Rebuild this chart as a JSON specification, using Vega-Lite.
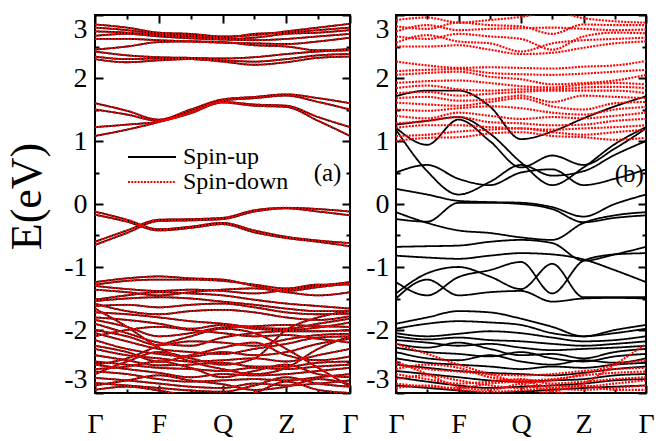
{
"$schema": "https://vega.github.io/schema/vega-lite/v6.json",
"background": "white",
"padding": {"left": 4, "top": 13, "right": 5, "bottom": 5},
"spacing": 4,
"datasets": {
"A": [
{"b":"a1","k":0,"e":2.85},{"b":"a1","k":0.5,"e":2.80},{"b":"a1","k":1,"e":2.72},{"b":"a1","k":1.5,"e":2.70},{"b":"a1","k":2,"e":2.66},{"b":"a1","k":2.5,"e":2.68},{"b":"a1","k":3,"e":2.74},{"b":"a1","k":3.5,"e":2.80},{"b":"a1","k":4,"e":2.86},
{"b":"a2","k":0,"e":2.80},{"b":"a2","k":0.5,"e":2.76},{"b":"a2","k":1,"e":2.70},{"b":"a2","k":1.5,"e":2.68},{"b":"a2","k":2,"e":2.64},{"b":"a2","k":2.5,"e":2.70},{"b":"a2","k":3,"e":2.72},{"b":"a2","k":3.5,"e":2.76},{"b":"a2","k":4,"e":2.80},
{"b":"a3","k":0,"e":2.74},{"b":"a3","k":0.5,"e":2.72},{"b":"a3","k":1,"e":2.68},{"b":"a3","k":1.5,"e":2.66},{"b":"a3","k":2,"e":2.62},{"b":"a3","k":2.5,"e":2.64},{"b":"a3","k":3,"e":2.70},{"b":"a3","k":3.5,"e":2.72},{"b":"a3","k":4,"e":2.76},
{"b":"a4","k":0,"e":2.67},{"b":"a4","k":0.5,"e":2.70},{"b":"a4","k":1,"e":2.66},{"b":"a4","k":1.5,"e":2.63},{"b":"a4","k":2,"e":2.61},{"b":"a4","k":2.5,"e":2.60},{"b":"a4","k":3,"e":2.62},{"b":"a4","k":3.5,"e":2.66},{"b":"a4","k":4,"e":2.70},
{"b":"a5","k":0,"e":2.62},{"b":"a5","k":0.5,"e":2.62},{"b":"a5","k":1,"e":2.60},{"b":"a5","k":1.5,"e":2.58},{"b":"a5","k":2,"e":2.56},{"b":"a5","k":2.5,"e":2.55},{"b":"a5","k":3,"e":2.54},{"b":"a5","k":3.5,"e":2.58},{"b":"a5","k":4,"e":2.64},
{"b":"a6","k":0,"e":2.45},{"b":"a6","k":0.5,"e":2.50},{"b":"a6","k":1,"e":2.57},{"b":"a6","k":1.5,"e":2.58},{"b":"a6","k":2,"e":2.57},{"b":"a6","k":2.5,"e":2.52},{"b":"a6","k":3,"e":2.50},{"b":"a6","k":3.5,"e":2.44},{"b":"a6","k":4,"e":2.46},
{"b":"a7","k":0,"e":2.42},{"b":"a7","k":0.5,"e":2.36},{"b":"a7","k":1,"e":2.33},{"b":"a7","k":1.5,"e":2.32},{"b":"a7","k":2,"e":2.31},{"b":"a7","k":2.5,"e":2.33},{"b":"a7","k":3,"e":2.38},{"b":"a7","k":3.5,"e":2.42},{"b":"a7","k":4,"e":2.44},
{"b":"a8","k":0,"e":2.34},{"b":"a8","k":0.5,"e":2.30},{"b":"a8","k":1,"e":2.31},{"b":"a8","k":1.5,"e":2.30},{"b":"a8","k":2,"e":2.28},{"b":"a8","k":2.5,"e":2.26},{"b":"a8","k":3,"e":2.30},{"b":"a8","k":3.5,"e":2.36},{"b":"a8","k":4,"e":2.38},
{"b":"a9","k":0,"e":2.30},{"b":"a9","k":0.5,"e":2.25},{"b":"a9","k":1,"e":2.28},{"b":"a9","k":1.5,"e":2.30},{"b":"a9","k":2,"e":2.26},{"b":"a9","k":2.5,"e":2.21},{"b":"a9","k":3,"e":2.25},{"b":"a9","k":3.5,"e":2.32},{"b":"a9","k":4,"e":2.34},
{"b":"a10","k":0,"e":1.60},{"b":"a10","k":0.5,"e":1.48},{"b":"a10","k":1,"e":1.34},{"b":"a10","k":1.5,"e":1.50},{"b":"a10","k":2,"e":1.66},{"b":"a10","k":2.5,"e":1.70},{"b":"a10","k":3,"e":1.74},{"b":"a10","k":3.5,"e":1.68},{"b":"a10","k":4,"e":1.60},
{"b":"a11","k":0,"e":1.50},{"b":"a11","k":0.5,"e":1.42},{"b":"a11","k":1,"e":1.32},{"b":"a11","k":1.5,"e":1.48},{"b":"a11","k":2,"e":1.64},{"b":"a11","k":2.5,"e":1.68},{"b":"a11","k":3,"e":1.72},{"b":"a11","k":3.5,"e":1.62},{"b":"a11","k":4,"e":1.50},
{"b":"a12","k":0,"e":1.22},{"b":"a12","k":0.5,"e":1.26},{"b":"a12","k":1,"e":1.31},{"b":"a12","k":1.5,"e":1.45},{"b":"a12","k":2,"e":1.62},{"b":"a12","k":2.5,"e":1.58},{"b":"a12","k":3,"e":1.56},{"b":"a12","k":3.5,"e":1.38},{"b":"a12","k":4,"e":1.22},
{"b":"a13","k":0,"e":1.08},{"b":"a13","k":0.5,"e":1.18},{"b":"a13","k":1,"e":1.30},{"b":"a13","k":1.5,"e":1.44},{"b":"a13","k":2,"e":1.61},{"b":"a13","k":2.5,"e":1.56},{"b":"a13","k":3,"e":1.54},{"b":"a13","k":3.5,"e":1.32},{"b":"a13","k":4,"e":1.08},
{"b":"a14","k":0,"e":-0.12},{"b":"a14","k":0.5,"e":-0.25},{"b":"a14","k":1,"e":-0.40},{"b":"a14","k":1.5,"e":-0.36},{"b":"a14","k":2,"e":-0.30},{"b":"a14","k":2.5,"e":-0.42},{"b":"a14","k":3,"e":-0.52},{"b":"a14","k":3.5,"e":-0.58},{"b":"a14","k":4,"e":-0.62},
{"b":"a15","k":0,"e":-0.17},{"b":"a15","k":0.5,"e":-0.28},{"b":"a15","k":1,"e":-0.42},{"b":"a15","k":1.5,"e":-0.38},{"b":"a15","k":2,"e":-0.32},{"b":"a15","k":2.5,"e":-0.45},{"b":"a15","k":3,"e":-0.54},{"b":"a15","k":3.5,"e":-0.60},{"b":"a15","k":4,"e":-0.67},
{"b":"a16","k":0,"e":-0.60},{"b":"a16","k":0.5,"e":-0.42},{"b":"a16","k":1,"e":-0.25},{"b":"a16","k":1.5,"e":-0.24},{"b":"a16","k":2,"e":-0.22},{"b":"a16","k":2.5,"e":-0.10},{"b":"a16","k":3,"e":-0.06},{"b":"a16","k":3.5,"e":-0.08},{"b":"a16","k":4,"e":-0.12},
{"b":"a17","k":0,"e":-0.65},{"b":"a17","k":0.5,"e":-0.46},{"b":"a17","k":1,"e":-0.27},{"b":"a17","k":1.5,"e":-0.26},{"b":"a17","k":2,"e":-0.24},{"b":"a17","k":2.5,"e":-0.12},{"b":"a17","k":3,"e":-0.07},{"b":"a17","k":3.5,"e":-0.12},{"b":"a17","k":4,"e":-0.18},
{"b":"a18","k":0,"e":-1.24},{"b":"a18","k":0.5,"e":-1.18},{"b":"a18","k":1,"e":-1.15},{"b":"a18","k":1.5,"e":-1.18},{"b":"a18","k":2,"e":-1.20},{"b":"a18","k":2.5,"e":-1.30},{"b":"a18","k":3,"e":-1.38},{"b":"a18","k":3.5,"e":-1.32},{"b":"a18","k":4,"e":-1.26},
{"b":"a19","k":0,"e":-1.28},{"b":"a19","k":0.5,"e":-1.22},{"b":"a19","k":1,"e":-1.20},{"b":"a19","k":1.5,"e":-1.20},{"b":"a19","k":2,"e":-1.22},{"b":"a19","k":2.5,"e":-1.28},{"b":"a19","k":3,"e":-1.34},{"b":"a19","k":3.5,"e":-1.28},{"b":"a19","k":4,"e":-1.28},
{"b":"a20","k":0,"e":-1.30},{"b":"a20","k":0.5,"e":-1.35},{"b":"a20","k":1,"e":-1.38},{"b":"a20","k":1.5,"e":-1.36},{"b":"a20","k":2,"e":-1.38},{"b":"a20","k":2.5,"e":-1.42},{"b":"a20","k":3,"e":-1.36},{"b":"a20","k":3.5,"e":-1.30},{"b":"a20","k":4,"e":-1.24},
{"b":"a21","k":0,"e":-1.52},{"b":"a21","k":0.5,"e":-1.45},{"b":"a21","k":1,"e":-1.40},{"b":"a21","k":1.5,"e":-1.42},{"b":"a21","k":2,"e":-1.45},{"b":"a21","k":2.5,"e":-1.52},{"b":"a21","k":3,"e":-1.58},{"b":"a21","k":3.5,"e":-1.62},{"b":"a21","k":4,"e":-1.66},
{"b":"a22","k":0,"e":-1.54},{"b":"a22","k":0.5,"e":-1.50},{"b":"a22","k":1,"e":-1.48},{"b":"a22","k":1.5,"e":-1.50},{"b":"a22","k":2,"e":-1.55},{"b":"a22","k":2.5,"e":-1.60},{"b":"a22","k":3,"e":-1.66},{"b":"a22","k":3.5,"e":-1.70},{"b":"a22","k":4,"e":-1.70},
{"b":"a23","k":0,"e":-1.62},{"b":"a23","k":0.5,"e":-1.60},{"b":"a23","k":1,"e":-1.64},{"b":"a23","k":1.5,"e":-1.60},{"b":"a23","k":2,"e":-1.58},{"b":"a23","k":2.5,"e":-1.64},{"b":"a23","k":3,"e":-1.72},{"b":"a23","k":3.5,"e":-1.75},{"b":"a23","k":4,"e":-1.74},
{"b":"a24","k":0,"e":-1.72},{"b":"a24","k":0.5,"e":-1.75},{"b":"a24","k":1,"e":-1.80},{"b":"a24","k":1.5,"e":-1.86},{"b":"a24","k":2,"e":-1.90},{"b":"a24","k":2.5,"e":-1.96},{"b":"a24","k":3,"e":-1.98},{"b":"a24","k":3.5,"e":-1.90},{"b":"a24","k":4,"e":-1.82},
{"b":"a25","k":0,"e":-1.80},{"b":"a25","k":0.5,"e":-1.84},{"b":"a25","k":1,"e":-1.90},{"b":"a25","k":1.5,"e":-1.98},{"b":"a25","k":2,"e":-1.92},{"b":"a25","k":2.5,"e":-1.98},{"b":"a25","k":3,"e":-2.00},{"b":"a25","k":3.5,"e":-1.96},{"b":"a25","k":4,"e":-1.88},
{"b":"a26","k":0,"e":-1.84},{"b":"a26","k":0.5,"e":-1.95},{"b":"a26","k":1,"e":-2.10},{"b":"a26","k":1.5,"e":-2.05},{"b":"a26","k":2,"e":-1.96},{"b":"a26","k":2.5,"e":-1.94},{"b":"a26","k":3,"e":-1.92},{"b":"a26","k":3.5,"e":-1.94},{"b":"a26","k":4,"e":-1.95},
{"b":"a27","k":0,"e":-1.90},{"b":"a27","k":0.5,"e":-2.05},{"b":"a27","k":1,"e":-2.20},{"b":"a27","k":1.5,"e":-2.25},{"b":"a27","k":2,"e":-2.12},{"b":"a27","k":2.5,"e":-2.05},{"b":"a27","k":3,"e":-2.02},{"b":"a27","k":3.5,"e":-2.02},{"b":"a27","k":4,"e":-2.00},
{"b":"a28","k":0,"e":-2.00},{"b":"a28","k":0.5,"e":-2.10},{"b":"a28","k":1,"e":-2.24},{"b":"a28","k":1.5,"e":-2.18},{"b":"a28","k":2,"e":-2.20},{"b":"a28","k":2.5,"e":-2.25},{"b":"a28","k":3,"e":-2.15},{"b":"a28","k":3.5,"e":-2.08},{"b":"a28","k":4,"e":-2.06},
{"b":"a29","k":0,"e":-2.05},{"b":"a29","k":0.5,"e":-2.18},{"b":"a29","k":1,"e":-2.30},{"b":"a29","k":1.5,"e":-2.35},{"b":"a29","k":2,"e":-2.38},{"b":"a29","k":2.5,"e":-2.30},{"b":"a29","k":3,"e":-2.22},{"b":"a29","k":3.5,"e":-2.12},{"b":"a29","k":4,"e":-2.10},
{"b":"a30","k":0,"e":-2.16},{"b":"a30","k":0.5,"e":-2.30},{"b":"a30","k":1,"e":-2.38},{"b":"a30","k":1.5,"e":-2.42},{"b":"a30","k":2,"e":-2.35},{"b":"a30","k":2.5,"e":-2.40},{"b":"a30","k":3,"e":-2.35},{"b":"a30","k":3.5,"e":-2.22},{"b":"a30","k":4,"e":-2.14},
{"b":"a31","k":0,"e":-2.30},{"b":"a31","k":0.5,"e":-2.40},{"b":"a31","k":1,"e":-2.45},{"b":"a31","k":1.5,"e":-2.50},{"b":"a31","k":2,"e":-2.48},{"b":"a31","k":2.5,"e":-2.45},{"b":"a31","k":3,"e":-2.50},{"b":"a31","k":3.5,"e":-2.40},{"b":"a31","k":4,"e":-2.30},
{"b":"a32","k":0,"e":-2.40},{"b":"a32","k":0.5,"e":-2.48},{"b":"a32","k":1,"e":-2.56},{"b":"a32","k":1.5,"e":-2.55},{"b":"a32","k":2,"e":-2.52},{"b":"a32","k":2.5,"e":-2.58},{"b":"a32","k":3,"e":-2.58},{"b":"a32","k":3.5,"e":-2.52},{"b":"a32","k":4,"e":-2.50},
{"b":"a33","k":0,"e":-2.50},{"b":"a33","k":0.5,"e":-2.55},{"b":"a33","k":1,"e":-2.60},{"b":"a33","k":1.5,"e":-2.62},{"b":"a33","k":2,"e":-2.65},{"b":"a33","k":2.5,"e":-2.60},{"b":"a33","k":3,"e":-2.62},{"b":"a33","k":3.5,"e":-2.58},{"b":"a33","k":4,"e":-2.55},
{"b":"a34","k":0,"e":-2.55},{"b":"a34","k":0.5,"e":-2.62},{"b":"a34","k":1,"e":-2.68},{"b":"a34","k":1.5,"e":-2.75},{"b":"a34","k":2,"e":-2.70},{"b":"a34","k":2.5,"e":-2.72},{"b":"a34","k":3,"e":-2.70},{"b":"a34","k":3.5,"e":-2.65},{"b":"a34","k":4,"e":-2.60},
{"b":"a35","k":0,"e":-2.66},{"b":"a35","k":0.5,"e":-2.70},{"b":"a35","k":1,"e":-2.78},{"b":"a35","k":1.5,"e":-2.82},{"b":"a35","k":2,"e":-2.80},{"b":"a35","k":2.5,"e":-2.78},{"b":"a35","k":3,"e":-2.80},{"b":"a35","k":3.5,"e":-2.75},{"b":"a35","k":4,"e":-2.70},
{"b":"a36","k":0,"e":-2.76},{"b":"a36","k":0.5,"e":-2.80},{"b":"a36","k":1,"e":-2.85},{"b":"a36","k":1.5,"e":-2.90},{"b":"a36","k":2,"e":-2.92},{"b":"a36","k":2.5,"e":-2.85},{"b":"a36","k":3,"e":-2.88},{"b":"a36","k":3.5,"e":-2.85},{"b":"a36","k":4,"e":-2.80},
{"b":"a37","k":0,"e":-2.84},{"b":"a37","k":0.5,"e":-2.88},{"b":"a37","k":1,"e":-2.92},{"b":"a37","k":1.5,"e":-2.96},{"b":"a37","k":2,"e":-2.98},{"b":"a37","k":2.5,"e":-2.88},{"b":"a37","k":3,"e":-2.75},{"b":"a37","k":3.5,"e":-2.85},{"b":"a37","k":4,"e":-2.90},
{"b":"a38","k":0,"e":-2.95},{"b":"a38","k":0.5,"e":-2.90},{"b":"a38","k":1,"e":-2.96},{"b":"a38","k":1.5,"e":-3.05},{"b":"a38","k":2,"e":-3.10},{"b":"a38","k":2.5,"e":-3.00},{"b":"a38","k":3,"e":-2.82},{"b":"a38","k":3.5,"e":-2.95},{"b":"a38","k":4,"e":-3.00},
{"b":"a39","k":0,"e":-1.66},{"b":"a39","k":0.5,"e":-1.95},{"b":"a39","k":1,"e":-2.28},{"b":"a39","k":1.5,"e":-2.50},{"b":"a39","k":2,"e":-2.62},{"b":"a39","k":2.5,"e":-2.70},{"b":"a39","k":3,"e":-2.60},{"b":"a39","k":3.5,"e":-2.30},{"b":"a39","k":4,"e":-2.10},
{"b":"a40","k":0,"e":-2.55},{"b":"a40","k":0.5,"e":-2.45},{"b":"a40","k":1,"e":-2.25},{"b":"a40","k":1.5,"e":-2.10},{"b":"a40","k":2,"e":-1.98},{"b":"a40","k":2.5,"e":-2.05},{"b":"a40","k":3,"e":-2.30},{"b":"a40","k":3.5,"e":-2.60},{"b":"a40","k":4,"e":-2.90},
{"b":"a41","k":0,"e":-2.70},{"b":"a41","k":0.5,"e":-2.50},{"b":"a41","k":1,"e":-2.35},{"b":"a41","k":1.5,"e":-2.45},{"b":"a41","k":2,"e":-2.55},{"b":"a41","k":2.5,"e":-2.45},{"b":"a41","k":3,"e":-2.00},{"b":"a41","k":3.5,"e":-1.80},{"b":"a41","k":4,"e":-1.70},
{"b":"a42","k":0,"e":-1.36},{"b":"a42","k":0.5,"e":-1.40},{"b":"a42","k":1,"e":-1.45},{"b":"a42","k":1.5,"e":-1.40},{"b":"a42","k":2,"e":-1.36},{"b":"a42","k":2.5,"e":-1.34},{"b":"a42","k":3,"e":-1.40},{"b":"a42","k":3.5,"e":-1.45},{"b":"a42","k":4,"e":-1.40},
{"b":"a43","k":0,"e":-1.58},{"b":"a43","k":0.5,"e":-1.70},{"b":"a43","k":1,"e":-1.75},{"b":"a43","k":1.5,"e":-1.70},{"b":"a43","k":2,"e":-1.68},{"b":"a43","k":2.5,"e":-1.72},{"b":"a43","k":3,"e":-1.80},{"b":"a43","k":3.5,"e":-1.84},{"b":"a43","k":4,"e":-1.78},
{"b":"a44","k":0,"e":-2.10},{"b":"a44","k":0.5,"e":-2.00},{"b":"a44","k":1,"e":-1.95},{"b":"a44","k":1.5,"e":-2.00},{"b":"a44","k":2,"e":-2.05},{"b":"a44","k":2.5,"e":-2.10},{"b":"a44","k":3,"e":-2.08},{"b":"a44","k":3.5,"e":-2.14},{"b":"a44","k":4,"e":-2.20},
{"b":"a45","k":0,"e":-2.25},{"b":"a45","k":0.5,"e":-2.35},{"b":"a45","k":1,"e":-2.50},{"b":"a45","k":1.5,"e":-2.40},{"b":"a45","k":2,"e":-2.28},{"b":"a45","k":2.5,"e":-2.20},{"b":"a45","k":3,"e":-2.40},{"b":"a45","k":3.5,"e":-2.48},{"b":"a45","k":4,"e":-2.42},
{"b":"a46","k":0,"e":-2.62},{"b":"a46","k":0.5,"e":-2.58},{"b":"a46","k":1,"e":-2.50},{"b":"a46","k":1.5,"e":-2.60},{"b":"a46","k":2,"e":-2.75},{"b":"a46","k":2.5,"e":-2.65},{"b":"a46","k":3,"e":-2.55},{"b":"a46","k":3.5,"e":-2.70},{"b":"a46","k":4,"e":-2.75},
{"b":"a47","k":0,"e":-2.88},{"b":"a47","k":0.5,"e":-2.80},{"b":"a47","k":1,"e":-2.72},{"b":"a47","k":1.5,"e":-2.80},{"b":"a47","k":2,"e":-2.86},{"b":"a47","k":2.5,"e":-2.95},{"b":"a47","k":3,"e":-2.90},{"b":"a47","k":3.5,"e":-2.78},{"b":"a47","k":4,"e":-2.86}
],
"B": [
{"s":"u","b":"b1","k":0,"e":1.71},{"s":"u","b":"b1","k":0.5,"e":1.80},{"s":"u","b":"b1","k":1,"e":1.80},{"s":"u","b":"b1","k":1.5,"e":1.55},{"s":"u","b":"b1","k":2,"e":1.03},{"s":"u","b":"b1","k":2.5,"e":1.15},{"s":"u","b":"b1","k":3,"e":1.36},{"s":"u","b":"b1","k":3.5,"e":1.55},{"s":"u","b":"b1","k":4,"e":1.71},
{"s":"u","b":"b2","k":0,"e":1.26},{"s":"u","b":"b2","k":0.5,"e":1.32},{"s":"u","b":"b2","k":1,"e":1.38},{"s":"u","b":"b2","k":1.5,"e":1.12},{"s":"u","b":"b2","k":2,"e":0.66},{"s":"u","b":"b2","k":2.5,"e":0.30},{"s":"u","b":"b2","k":3,"e":0.58},{"s":"u","b":"b2","k":3.5,"e":0.95},{"s":"u","b":"b2","k":4,"e":1.22},
{"s":"u","b":"b3","k":0,"e":1.21},{"s":"u","b":"b3","k":0.5,"e":0.94},{"s":"u","b":"b3","k":1,"e":1.34},{"s":"u","b":"b3","k":1.5,"e":1.00},{"s":"u","b":"b3","k":2,"e":0.58},{"s":"u","b":"b3","k":2.5,"e":0.77},{"s":"u","b":"b3","k":3,"e":0.62},{"s":"u","b":"b3","k":3.5,"e":0.88},{"s":"u","b":"b3","k":4,"e":1.20},
{"s":"u","b":"b4","k":0,"e":1.18},{"s":"u","b":"b4","k":0.5,"e":0.52},{"s":"u","b":"b4","k":1,"e":0.15},{"s":"u","b":"b4","k":1.5,"e":0.35},{"s":"u","b":"b4","k":2,"e":0.62},{"s":"u","b":"b4","k":2.5,"e":0.45},{"s":"u","b":"b4","k":3,"e":0.52},{"s":"u","b":"b4","k":3.5,"e":0.78},{"s":"u","b":"b4","k":4,"e":1.00},
{"s":"u","b":"b5","k":0,"e":0.50},{"s":"u","b":"b5","k":0.5,"e":0.62},{"s":"u","b":"b5","k":1,"e":0.40},{"s":"u","b":"b5","k":1.5,"e":0.30},{"s":"u","b":"b5","k":2,"e":0.50},{"s":"u","b":"b5","k":2.5,"e":0.55},{"s":"u","b":"b5","k":3,"e":0.30},{"s":"u","b":"b5","k":3.5,"e":0.40},{"s":"u","b":"b5","k":4,"e":0.55},
{"s":"u","b":"b6","k":0,"e":0.24},{"s":"u","b":"b6","k":0.5,"e":0.15},{"s":"u","b":"b6","k":1,"e":0.05},{"s":"u","b":"b6","k":1.5,"e":0.03},{"s":"u","b":"b6","k":2,"e":0.02},{"s":"u","b":"b6","k":2.5,"e":-0.05},{"s":"u","b":"b6","k":3,"e":-0.20},{"s":"u","b":"b6","k":3.5,"e":0.00},{"s":"u","b":"b6","k":4,"e":0.15},
{"s":"u","b":"b8","k":0,"e":-0.13},{"s":"u","b":"b8","k":0.5,"e":-0.30},{"s":"u","b":"b8","k":1,"e":-0.42},{"s":"u","b":"b8","k":1.5,"e":-0.46},{"s":"u","b":"b8","k":2,"e":-0.53},{"s":"u","b":"b8","k":2.5,"e":-0.57},{"s":"u","b":"b8","k":3,"e":-0.30},{"s":"u","b":"b8","k":3.5,"e":-0.18},{"s":"u","b":"b8","k":4,"e":-0.13},
{"s":"u","b":"b9","k":0,"e":-0.24},{"s":"u","b":"b9","k":0.5,"e":-0.28},{"s":"u","b":"b9","k":1,"e":0.02},{"s":"u","b":"b9","k":1.5,"e":0.02},{"s":"u","b":"b9","k":2,"e":0.00},{"s":"u","b":"b9","k":2.5,"e":-0.08},{"s":"u","b":"b9","k":3,"e":-0.29},{"s":"u","b":"b9","k":3.5,"e":-0.22},{"s":"u","b":"b9","k":4,"e":-0.18},
{"s":"u","b":"b10","k":0,"e":-0.68},{"s":"u","b":"b10","k":0.5,"e":-0.67},{"s":"u","b":"b10","k":1,"e":-0.66},{"s":"u","b":"b10","k":1.5,"e":-0.60},{"s":"u","b":"b10","k":2,"e":-0.57},{"s":"u","b":"b10","k":2.5,"e":-0.62},{"s":"u","b":"b10","k":3,"e":-0.90},{"s":"u","b":"b10","k":3.5,"e":-0.80},{"s":"u","b":"b10","k":4,"e":-0.68},
{"s":"u","b":"b11","k":0,"e":-0.82},{"s":"u","b":"b11","k":0.5,"e":-0.85},{"s":"u","b":"b11","k":1,"e":-0.87},{"s":"u","b":"b11","k":1.5,"e":-0.82},{"s":"u","b":"b11","k":2,"e":-0.78},{"s":"u","b":"b11","k":2.5,"e":-0.80},{"s":"u","b":"b11","k":3,"e":-0.88},{"s":"u","b":"b11","k":3.5,"e":-1.05},{"s":"u","b":"b11","k":4,"e":-1.24},
{"s":"u","b":"b12","k":0,"e":-1.42},{"s":"u","b":"b12","k":0.5,"e":-1.10},{"s":"u","b":"b12","k":1,"e":-1.00},{"s":"u","b":"b12","k":1.5,"e":-1.15},{"s":"u","b":"b12","k":2,"e":-1.35},{"s":"u","b":"b12","k":2.5,"e":-0.95},{"s":"u","b":"b12","k":3,"e":-1.48},{"s":"u","b":"b12","k":3.5,"e":-1.48},{"s":"u","b":"b12","k":4,"e":-1.48},
{"s":"u","b":"b13","k":0,"e":-1.24},{"s":"u","b":"b13","k":0.5,"e":-1.45},{"s":"u","b":"b13","k":1,"e":-1.16},{"s":"u","b":"b13","k":1.5,"e":-1.05},{"s":"u","b":"b13","k":2,"e":-0.92},{"s":"u","b":"b13","k":2.5,"e":-1.42},{"s":"u","b":"b13","k":3,"e":-0.90},{"s":"u","b":"b13","k":3.5,"e":-0.80},{"s":"u","b":"b13","k":4,"e":-0.78},
{"s":"u","b":"b14","k":0,"e":-1.50},{"s":"u","b":"b14","k":0.5,"e":-1.20},{"s":"u","b":"b14","k":1,"e":-1.45},{"s":"u","b":"b14","k":1.5,"e":-1.40},{"s":"u","b":"b14","k":2,"e":-1.38},{"s":"u","b":"b14","k":2.5,"e":-1.55},{"s":"u","b":"b14","k":3,"e":-1.50},{"s":"u","b":"b14","k":3.5,"e":-1.49},{"s":"u","b":"b14","k":4,"e":-1.50},
{"s":"u","b":"b15","k":0,"e":-1.90},{"s":"u","b":"b15","k":0.5,"e":-1.80},{"s":"u","b":"b15","k":1,"e":-1.70},{"s":"u","b":"b15","k":1.5,"e":-1.72},{"s":"u","b":"b15","k":2,"e":-1.82},{"s":"u","b":"b15","k":2.5,"e":-1.95},{"s":"u","b":"b15","k":3,"e":-2.10},{"s":"u","b":"b15","k":3.5,"e":-2.00},{"s":"u","b":"b15","k":4,"e":-1.92},
{"s":"u","b":"b16","k":0,"e":-1.98},{"s":"u","b":"b16","k":0.5,"e":-1.90},{"s":"u","b":"b16","k":1,"e":-1.86},{"s":"u","b":"b16","k":1.5,"e":-1.88},{"s":"u","b":"b16","k":2,"e":-1.92},{"s":"u","b":"b16","k":2.5,"e":-2.05},{"s":"u","b":"b16","k":3,"e":-2.10},{"s":"u","b":"b16","k":3.5,"e":-2.05},{"s":"u","b":"b16","k":4,"e":-1.98},
{"s":"u","b":"b17","k":0,"e":-2.05},{"s":"u","b":"b17","k":0.5,"e":-2.10},{"s":"u","b":"b17","k":1,"e":-2.06},{"s":"u","b":"b17","k":1.5,"e":-2.02},{"s":"u","b":"b17","k":2,"e":-2.05},{"s":"u","b":"b17","k":2.5,"e":-2.12},{"s":"u","b":"b17","k":3,"e":-2.18},{"s":"u","b":"b17","k":3.5,"e":-2.16},{"s":"u","b":"b17","k":4,"e":-2.10},
{"s":"u","b":"b18","k":0,"e":-2.10},{"s":"u","b":"b18","k":0.5,"e":-2.15},{"s":"u","b":"b18","k":1,"e":-2.12},{"s":"u","b":"b18","k":1.5,"e":-2.16},{"s":"u","b":"b18","k":2,"e":-2.18},{"s":"u","b":"b18","k":2.5,"e":-2.22},{"s":"u","b":"b18","k":3,"e":-2.25},{"s":"u","b":"b18","k":3.5,"e":-2.22},{"s":"u","b":"b18","k":4,"e":-2.18},
{"s":"u","b":"b19","k":0,"e":-2.16},{"s":"u","b":"b19","k":0.5,"e":-2.20},{"s":"u","b":"b19","k":1,"e":-2.25},{"s":"u","b":"b19","k":1.5,"e":-2.22},{"s":"u","b":"b19","k":2,"e":-2.28},{"s":"u","b":"b19","k":2.5,"e":-2.32},{"s":"u","b":"b19","k":3,"e":-2.30},{"s":"u","b":"b19","k":3.5,"e":-2.28},{"s":"u","b":"b19","k":4,"e":-2.25},
{"s":"u","b":"b20","k":0,"e":-2.22},{"s":"u","b":"b20","k":0.5,"e":-2.28},{"s":"u","b":"b20","k":1,"e":-2.20},{"s":"u","b":"b20","k":1.5,"e":-2.30},{"s":"u","b":"b20","k":2,"e":-2.40},{"s":"u","b":"b20","k":2.5,"e":-2.38},{"s":"u","b":"b20","k":3,"e":-2.45},{"s":"u","b":"b20","k":3.5,"e":-2.35},{"s":"u","b":"b20","k":4,"e":-2.30},
{"s":"u","b":"b21","k":0,"e":-2.28},{"s":"u","b":"b21","k":0.5,"e":-2.35},{"s":"u","b":"b21","k":1,"e":-2.38},{"s":"u","b":"b21","k":1.5,"e":-2.42},{"s":"u","b":"b21","k":2,"e":-2.35},{"s":"u","b":"b21","k":2.5,"e":-2.45},{"s":"u","b":"b21","k":3,"e":-2.50},{"s":"u","b":"b21","k":3.5,"e":-2.42},{"s":"u","b":"b21","k":4,"e":-2.38},
{"s":"u","b":"b22","k":0,"e":-2.35},{"s":"u","b":"b22","k":0.5,"e":-2.45},{"s":"u","b":"b22","k":1,"e":-2.48},{"s":"u","b":"b22","k":1.5,"e":-2.40},{"s":"u","b":"b22","k":2,"e":-2.50},{"s":"u","b":"b22","k":2.5,"e":-2.55},{"s":"u","b":"b22","k":3,"e":-2.48},{"s":"u","b":"b22","k":3.5,"e":-2.52},{"s":"u","b":"b22","k":4,"e":-2.45},
{"s":"u","b":"b23","k":0,"e":-2.45},{"s":"u","b":"b23","k":0.5,"e":-2.52},{"s":"u","b":"b23","k":1,"e":-2.55},{"s":"u","b":"b23","k":1.5,"e":-2.58},{"s":"u","b":"b23","k":2,"e":-2.62},{"s":"u","b":"b23","k":2.5,"e":-2.58},{"s":"u","b":"b23","k":3,"e":-2.60},{"s":"u","b":"b23","k":3.5,"e":-2.55},{"s":"u","b":"b23","k":4,"e":-2.52},
{"s":"u","b":"b24","k":0,"e":-2.55},{"s":"u","b":"b24","k":0.5,"e":-2.60},{"s":"u","b":"b24","k":1,"e":-2.65},{"s":"u","b":"b24","k":1.5,"e":-2.68},{"s":"u","b":"b24","k":2,"e":-2.70},{"s":"u","b":"b24","k":2.5,"e":-2.72},{"s":"u","b":"b24","k":3,"e":-2.68},{"s":"u","b":"b24","k":3.5,"e":-2.62},{"s":"u","b":"b24","k":4,"e":-2.58},
{"s":"u","b":"b25","k":0,"e":-2.65},{"s":"u","b":"b25","k":0.5,"e":-2.70},{"s":"u","b":"b25","k":1,"e":-2.75},{"s":"u","b":"b25","k":1.5,"e":-2.80},{"s":"u","b":"b25","k":2,"e":-2.82},{"s":"u","b":"b25","k":2.5,"e":-2.80},{"s":"u","b":"b25","k":3,"e":-2.78},{"s":"u","b":"b25","k":3.5,"e":-2.72},{"s":"u","b":"b25","k":4,"e":-2.70},
{"s":"u","b":"b26","k":0,"e":-2.75},{"s":"u","b":"b26","k":0.5,"e":-2.82},{"s":"u","b":"b26","k":1,"e":-2.88},{"s":"u","b":"b26","k":1.5,"e":-2.92},{"s":"u","b":"b26","k":2,"e":-2.90},{"s":"u","b":"b26","k":2.5,"e":-2.88},{"s":"u","b":"b26","k":3,"e":-2.85},{"s":"u","b":"b26","k":3.5,"e":-2.80},{"s":"u","b":"b26","k":4,"e":-2.78},
{"s":"u","b":"b27","k":0,"e":-2.88},{"s":"u","b":"b27","k":0.5,"e":-2.92},{"s":"u","b":"b27","k":1,"e":-2.96},{"s":"u","b":"b27","k":1.5,"e":-3.00},{"s":"u","b":"b27","k":2,"e":-2.98},{"s":"u","b":"b27","k":2.5,"e":-2.95},{"s":"u","b":"b27","k":3,"e":-2.92},{"s":"u","b":"b27","k":3.5,"e":-2.90},{"s":"u","b":"b27","k":4,"e":-2.88},
{"s":"d","b":"r1","k":0,"e":2.92},{"s":"d","b":"r1","k":0.5,"e":2.96},{"s":"d","b":"r1","k":1,"e":2.88},{"s":"d","b":"r1","k":1.5,"e":2.92},{"s":"d","b":"r1","k":2,"e":2.97},{"s":"d","b":"r1","k":2.5,"e":3.05},{"s":"d","b":"r1","k":3,"e":2.95},{"s":"d","b":"r1","k":3.5,"e":2.90},{"s":"d","b":"r1","k":4,"e":2.88},
{"s":"d","b":"r2","k":0,"e":2.82},{"s":"d","b":"r2","k":0.5,"e":2.78},{"s":"d","b":"r2","k":1,"e":2.88},{"s":"d","b":"r2","k":1.5,"e":2.84},{"s":"d","b":"r2","k":2,"e":2.82},{"s":"d","b":"r2","k":2.5,"e":2.70},{"s":"d","b":"r2","k":3,"e":2.85},{"s":"d","b":"r2","k":3.5,"e":2.84},{"s":"d","b":"r2","k":4,"e":2.84},
{"s":"d","b":"r3","k":0,"e":2.74},{"s":"d","b":"r3","k":0.5,"e":2.84},{"s":"d","b":"r3","k":1,"e":2.76},{"s":"d","b":"r3","k":1.5,"e":2.78},{"s":"d","b":"r3","k":2,"e":2.79},{"s":"d","b":"r3","k":2.5,"e":2.80},{"s":"d","b":"r3","k":3,"e":2.78},{"s":"d","b":"r3","k":3.5,"e":2.76},{"s":"d","b":"r3","k":4,"e":2.77},
{"s":"d","b":"r4","k":0,"e":2.66},{"s":"d","b":"r4","k":0.5,"e":2.62},{"s":"d","b":"r4","k":1,"e":2.70},{"s":"d","b":"r4","k":1.5,"e":2.66},{"s":"d","b":"r4","k":2,"e":2.62},{"s":"d","b":"r4","k":2.5,"e":2.45},{"s":"d","b":"r4","k":3,"e":2.66},{"s":"d","b":"r4","k":3.5,"e":2.72},{"s":"d","b":"r4","k":4,"e":2.71},
{"s":"d","b":"r5","k":0,"e":2.56},{"s":"d","b":"r5","k":0.5,"e":2.68},{"s":"d","b":"r5","k":1,"e":2.58},{"s":"d","b":"r5","k":1.5,"e":2.55},{"s":"d","b":"r5","k":2,"e":2.42},{"s":"d","b":"r5","k":2.5,"e":2.55},{"s":"d","b":"r5","k":3,"e":2.60},{"s":"d","b":"r5","k":3.5,"e":2.62},{"s":"d","b":"r5","k":4,"e":2.64},
{"s":"d","b":"r6","k":0,"e":2.50},{"s":"d","b":"r6","k":0.5,"e":2.50},{"s":"d","b":"r6","k":1,"e":2.52},{"s":"d","b":"r6","k":1.5,"e":2.45},{"s":"d","b":"r6","k":2,"e":2.38},{"s":"d","b":"r6","k":2.5,"e":2.40},{"s":"d","b":"r6","k":3,"e":2.48},{"s":"d","b":"r6","k":3.5,"e":2.55},{"s":"d","b":"r6","k":4,"e":2.58},
{"s":"d","b":"r7","k":0,"e":2.26},{"s":"d","b":"r7","k":0.5,"e":2.20},{"s":"d","b":"r7","k":1,"e":2.16},{"s":"d","b":"r7","k":1.5,"e":2.17},{"s":"d","b":"r7","k":2,"e":2.16},{"s":"d","b":"r7","k":2.5,"e":2.15},{"s":"d","b":"r7","k":3,"e":2.18},{"s":"d","b":"r7","k":3.5,"e":2.20},{"s":"d","b":"r7","k":4,"e":2.27},
{"s":"d","b":"r8","k":0,"e":2.11},{"s":"d","b":"r8","k":0.5,"e":2.13},{"s":"d","b":"r8","k":1,"e":2.14},{"s":"d","b":"r8","k":1.5,"e":2.08},{"s":"d","b":"r8","k":2,"e":2.06},{"s":"d","b":"r8","k":2.5,"e":2.05},{"s":"d","b":"r8","k":3,"e":2.07},{"s":"d","b":"r8","k":3.5,"e":2.10},{"s":"d","b":"r8","k":4,"e":2.13},
{"s":"d","b":"r9","k":0,"e":2.05},{"s":"d","b":"r9","k":0.5,"e":2.08},{"s":"d","b":"r9","k":1,"e":2.10},{"s":"d","b":"r9","k":1.5,"e":2.02},{"s":"d","b":"r9","k":2,"e":1.98},{"s":"d","b":"r9","k":2.5,"e":1.90},{"s":"d","b":"r9","k":3,"e":1.92},{"s":"d","b":"r9","k":3.5,"e":1.96},{"s":"d","b":"r9","k":4,"e":2.05},
{"s":"d","b":"r10","k":0,"e":1.92},{"s":"d","b":"r10","k":0.5,"e":1.95},{"s":"d","b":"r10","k":1,"e":1.96},{"s":"d","b":"r10","k":1.5,"e":1.92},{"s":"d","b":"r10","k":2,"e":1.87},{"s":"d","b":"r10","k":2.5,"e":1.85},{"s":"d","b":"r10","k":3,"e":1.90},{"s":"d","b":"r10","k":3.5,"e":1.92},{"s":"d","b":"r10","k":4,"e":1.90},
{"s":"d","b":"r11","k":0,"e":1.84},{"s":"d","b":"r11","k":0.5,"e":1.88},{"s":"d","b":"r11","k":1,"e":1.82},{"s":"d","b":"r11","k":1.5,"e":1.80},{"s":"d","b":"r11","k":2,"e":1.82},{"s":"d","b":"r11","k":2.5,"e":1.82},{"s":"d","b":"r11","k":3,"e":1.85},{"s":"d","b":"r11","k":3.5,"e":1.86},{"s":"d","b":"r11","k":4,"e":1.84},
{"s":"d","b":"r12","k":0,"e":1.76},{"s":"d","b":"r12","k":0.5,"e":1.78},{"s":"d","b":"r12","k":1,"e":1.72},{"s":"d","b":"r12","k":1.5,"e":1.75},{"s":"d","b":"r12","k":2,"e":1.78},{"s":"d","b":"r12","k":2.5,"e":1.80},{"s":"d","b":"r12","k":3,"e":1.80},{"s":"d","b":"r12","k":3.5,"e":1.80},{"s":"d","b":"r12","k":4,"e":1.76},
{"s":"d","b":"r13","k":0,"e":1.68},{"s":"d","b":"r13","k":0.5,"e":1.70},{"s":"d","b":"r13","k":1,"e":1.64},{"s":"d","b":"r13","k":1.5,"e":1.66},{"s":"d","b":"r13","k":2,"e":1.72},{"s":"d","b":"r13","k":2.5,"e":1.62},{"s":"d","b":"r13","k":3,"e":1.72},{"s":"d","b":"r13","k":3.5,"e":1.70},{"s":"d","b":"r13","k":4,"e":1.68},
{"s":"d","b":"r14","k":0,"e":1.61},{"s":"d","b":"r14","k":0.5,"e":1.58},{"s":"d","b":"r14","k":1,"e":1.56},{"s":"d","b":"r14","k":1.5,"e":1.62},{"s":"d","b":"r14","k":2,"e":1.68},{"s":"d","b":"r14","k":2.5,"e":1.55},{"s":"d","b":"r14","k":3,"e":1.50},{"s":"d","b":"r14","k":3.5,"e":1.60},{"s":"d","b":"r14","k":4,"e":1.62},
{"s":"d","b":"r15","k":0,"e":1.50},{"s":"d","b":"r15","k":0.5,"e":1.48},{"s":"d","b":"r15","k":1,"e":1.52},{"s":"d","b":"r15","k":1.5,"e":1.55},{"s":"d","b":"r15","k":2,"e":1.52},{"s":"d","b":"r15","k":2.5,"e":1.45},{"s":"d","b":"r15","k":3,"e":1.42},{"s":"d","b":"r15","k":3.5,"e":1.50},{"s":"d","b":"r15","k":4,"e":1.54},
{"s":"d","b":"r16","k":0,"e":1.40},{"s":"d","b":"r16","k":0.5,"e":1.36},{"s":"d","b":"r16","k":1,"e":1.45},{"s":"d","b":"r16","k":1.5,"e":1.40},{"s":"d","b":"r16","k":2,"e":1.35},{"s":"d","b":"r16","k":2.5,"e":1.38},{"s":"d","b":"r16","k":3,"e":1.36},{"s":"d","b":"r16","k":3.5,"e":1.40},{"s":"d","b":"r16","k":4,"e":1.45},
{"s":"d","b":"r17","k":0,"e":1.28},{"s":"d","b":"r17","k":0.5,"e":1.32},{"s":"d","b":"r17","k":1,"e":1.38},{"s":"d","b":"r17","k":1.5,"e":1.30},{"s":"d","b":"r17","k":2,"e":1.28},{"s":"d","b":"r17","k":2.5,"e":1.25},{"s":"d","b":"r17","k":3,"e":1.26},{"s":"d","b":"r17","k":3.5,"e":1.32},{"s":"d","b":"r17","k":4,"e":1.35},
{"s":"d","b":"r18","k":0,"e":1.21},{"s":"d","b":"r18","k":0.5,"e":1.25},{"s":"d","b":"r18","k":1,"e":1.25},{"s":"d","b":"r18","k":1.5,"e":1.22},{"s":"d","b":"r18","k":2,"e":1.20},{"s":"d","b":"r18","k":2.5,"e":1.18},{"s":"d","b":"r18","k":3,"e":1.20},{"s":"d","b":"r18","k":3.5,"e":1.22},{"s":"d","b":"r18","k":4,"e":1.25},
{"s":"d","b":"r19","k":0,"e":1.08},{"s":"d","b":"r19","k":0.5,"e":1.10},{"s":"d","b":"r19","k":1,"e":1.15},{"s":"d","b":"r19","k":1.5,"e":1.18},{"s":"d","b":"r19","k":2,"e":1.20},{"s":"d","b":"r19","k":2.5,"e":1.14},{"s":"d","b":"r19","k":3,"e":1.10},{"s":"d","b":"r19","k":3.5,"e":1.14},{"s":"d","b":"r19","k":4,"e":1.18},
{"s":"d","b":"r20","k":0,"e":1.00},{"s":"d","b":"r20","k":0.5,"e":1.05},{"s":"d","b":"r20","k":1,"e":1.06},{"s":"d","b":"r20","k":1.5,"e":1.12},{"s":"d","b":"r20","k":2,"e":1.14},{"s":"d","b":"r20","k":2.5,"e":1.08},{"s":"d","b":"r20","k":3,"e":1.06},{"s":"d","b":"r20","k":3.5,"e":1.02},{"s":"d","b":"r20","k":4,"e":1.05},
{"s":"d","b":"r21","k":0,"e":-2.22},{"s":"d","b":"r21","k":0.5,"e":-2.38},{"s":"d","b":"r21","k":1,"e":-2.55},{"s":"d","b":"r21","k":1.5,"e":-2.70},{"s":"d","b":"r21","k":2,"e":-2.85},{"s":"d","b":"r21","k":2.5,"e":-2.97},{"s":"d","b":"r21","k":3,"e":-3.05},{"s":"d","b":"r21","k":3.5,"e":-3.10},{"s":"d","b":"r21","k":4,"e":-3.10},
{"s":"d","b":"r22","k":0,"e":-3.20},{"s":"d","b":"r22","k":0.5,"e":-3.20},{"s":"d","b":"r22","k":1,"e":-3.15},{"s":"d","b":"r22","k":1.5,"e":-3.10},{"s":"d","b":"r22","k":2,"e":-3.05},{"s":"d","b":"r22","k":2.5,"e":-2.97},{"s":"d","b":"r22","k":3,"e":-2.85},{"s":"d","b":"r22","k":3.5,"e":-2.55},{"s":"d","b":"r22","k":4,"e":-2.22},
{"s":"d","b":"r23","k":0,"e":-2.55},{"s":"d","b":"r23","k":0.5,"e":-2.62},{"s":"d","b":"r23","k":1,"e":-2.66},{"s":"d","b":"r23","k":1.5,"e":-2.70},{"s":"d","b":"r23","k":2,"e":-2.72},{"s":"d","b":"r23","k":2.5,"e":-2.70},{"s":"d","b":"r23","k":3,"e":-2.65},{"s":"d","b":"r23","k":3.5,"e":-2.62},{"s":"d","b":"r23","k":4,"e":-2.60},
{"s":"d","b":"r24","k":0,"e":-2.62},{"s":"d","b":"r24","k":0.5,"e":-2.55},{"s":"d","b":"r24","k":1,"e":-2.60},{"s":"d","b":"r24","k":1.5,"e":-2.75},{"s":"d","b":"r24","k":2,"e":-2.80},{"s":"d","b":"r24","k":2.5,"e":-2.78},{"s":"d","b":"r24","k":3,"e":-2.72},{"s":"d","b":"r24","k":3.5,"e":-2.68},{"s":"d","b":"r24","k":4,"e":-2.66},
{"s":"d","b":"r25","k":0,"e":-2.70},{"s":"d","b":"r25","k":0.5,"e":-2.78},{"s":"d","b":"r25","k":1,"e":-2.85},{"s":"d","b":"r25","k":1.5,"e":-2.82},{"s":"d","b":"r25","k":2,"e":-2.78},{"s":"d","b":"r25","k":2.5,"e":-2.85},{"s":"d","b":"r25","k":3,"e":-2.82},{"s":"d","b":"r25","k":3.5,"e":-2.78},{"s":"d","b":"r25","k":4,"e":-2.75},
{"s":"d","b":"r26","k":0,"e":-2.78},{"s":"d","b":"r26","k":0.5,"e":-2.72},{"s":"d","b":"r26","k":1,"e":-2.80},{"s":"d","b":"r26","k":1.5,"e":-2.88},{"s":"d","b":"r26","k":2,"e":-2.92},{"s":"d","b":"r26","k":2.5,"e":-2.88},{"s":"d","b":"r26","k":3,"e":-2.90},{"s":"d","b":"r26","k":3.5,"e":-2.85},{"s":"d","b":"r26","k":4,"e":-2.80},
{"s":"d","b":"r27","k":0,"e":-2.85},{"s":"d","b":"r27","k":0.5,"e":-2.90},{"s":"d","b":"r27","k":1,"e":-2.92},{"s":"d","b":"r27","k":1.5,"e":-2.85},{"s":"d","b":"r27","k":2,"e":-2.82},{"s":"d","b":"r27","k":2.5,"e":-2.92},{"s":"d","b":"r27","k":3,"e":-2.95},{"s":"d","b":"r27","k":3.5,"e":-2.92},{"s":"d","b":"r27","k":4,"e":-2.88},
{"s":"d","b":"r28","k":0,"e":-2.92},{"s":"d","b":"r28","k":0.5,"e":-2.88},{"s":"d","b":"r28","k":1,"e":-2.95},{"s":"d","b":"r28","k":1.5,"e":-2.98},{"s":"d","b":"r28","k":2,"e":-2.96},{"s":"d","b":"r28","k":2.5,"e":-2.92},{"s":"d","b":"r28","k":3,"e":-2.88},{"s":"d","b":"r28","k":3.5,"e":-2.95},{"s":"d","b":"r28","k":4,"e":-2.95},
{"s":"d","b":"r29","k":0,"e":-2.50},{"s":"d","b":"r29","k":0.5,"e":-2.70},{"s":"d","b":"r29","k":1,"e":-2.90},{"s":"d","b":"r29","k":1.5,"e":-2.95},{"s":"d","b":"r29","k":2,"e":-2.85},{"s":"d","b":"r29","k":2.5,"e":-2.80},{"s":"d","b":"r29","k":3,"e":-2.70},{"s":"d","b":"r29","k":3.5,"e":-2.55},{"s":"d","b":"r29","k":4,"e":-2.48}
]
},
"hconcat": [
{
"width": 255, "height": 378,
"layer": [
{"data": {"name": "A"},
 "mark": {"type": "line", "clip": true, "interpolate": "monotone", "strokeWidth": 1.8},
 "encoding": {
  "x": {"field": "k", "type": "quantitative", "scale": {"domain": [0, 4], "nice": false, "zero": false},
        "axis": {"orient": "bottom", "values": [0, 1, 2, 3, 4], "labelExpr": "['Γ','F','Q','Z','Γ'][datum.value]", "ticks": false, "labelFont": "Liberation Serif", "labelFontSize": 28, "labelPadding": 17, "labelFlush": false, "labelOverlap": false, "title": null}},
  "y": {"field": "e", "type": "quantitative", "scale": {"domain": [-3, 3], "nice": false, "zero": false},
        "axis": {"orient": "left", "values": [-3, -2, -1, 0, 1, 2, 3], "labelExpr": "'' + datum.value", "ticks": false, "labelFont": "Liberation Serif", "labelFontSize": 28, "labelPadding": 8, "labelFlush": true, "labelOverlap": false, "title": "E(eV)", "titleFont": "Liberation Serif", "titleFontSize": 44, "titleFontWeight": "normal", "titlePadding": 14, "titleY": 181}},
  "detail": {"field": "b"},
  "color": {"datum": "Spin-up", "scale": {"domain": ["Spin-up", "Spin-down"], "range": ["#000000", "#ff0000"]}, "legend": {"orient": "none", "legendX": 44, "legendY": 129, "title": null}},
  "strokeDash": {"datum": "Spin-up", "scale": {"domain": ["Spin-up", "Spin-down"], "range": [[1, 0], [2, 1.2]]}, "legend": {"orient": "none", "legendX": 44, "legendY": 129, "title": null}}
 }},
{"data": {"name": "A"},
 "mark": {"type": "line", "clip": true, "interpolate": "monotone", "strokeWidth": 1.9},
 "encoding": {
  "x": {"field": "k", "type": "quantitative", "scale": {"domain": [0, 4], "nice": false, "zero": false},
        "axis": {"orient": "bottom", "values": [0, 1, 2, 3, 4], "labels": false, "tickSize": -8, "tickWidth": 2, "title": null}},
  "y": {"field": "e", "type": "quantitative", "scale": {"domain": [-3, 3], "nice": false, "zero": false},
        "axis": {"orient": "left", "values": [-3, -2, -1, 0, 1, 2, 3], "labels": false, "tickSize": -8, "tickWidth": 2, "title": null}},
  "detail": {"field": "b"},
  "color": {"datum": "Spin-down", "scale": {"domain": ["Spin-up", "Spin-down"], "range": ["#000000", "#ff0000"]}, "legend": {"orient": "none", "legendX": 44, "legendY": 129, "title": null}},
  "strokeDash": {"datum": "Spin-down", "scale": {"domain": ["Spin-up", "Spin-down"], "range": [[1, 0], [2, 1.2]]}, "legend": {"orient": "none", "legendX": 44, "legendY": 129, "title": null}}
 }},
{"data": {"values": [{"k": 0, "e": 0}]},
 "mark": {"type": "point", "opacity": 0},
 "encoding": {
  "x": {"field": "k", "type": "quantitative", "scale": {"domain": [0, 4], "nice": false, "zero": false},
        "axis": {"orient": "top", "values": [0, 1, 2, 3, 4], "labels": false, "tickSize": -8, "tickWidth": 2, "title": null}},
  "y": {"field": "e", "type": "quantitative", "scale": {"domain": [-3, 3], "nice": false, "zero": false},
        "axis": {"orient": "right", "values": [-3, -2, -1, 0, 1, 2, 3], "labels": false, "tickSize": -8, "tickWidth": 2, "title": null}}
 }},
{"data": {"values": [{"k": 0, "e": 0}]},
 "mark": {"type": "point", "opacity": 0},
 "encoding": {
  "x": {"field": "k", "type": "quantitative", "scale": {"domain": [0, 4], "nice": false, "zero": false},
        "axis": {"orient": "bottom", "values": [0.5, 1.5, 2.5, 3.5], "labels": false, "tickSize": -4, "tickWidth": 2, "title": null}},
  "y": {"field": "e", "type": "quantitative", "scale": {"domain": [-3, 3], "nice": false, "zero": false},
        "axis": {"orient": "left", "values": [-2.5, -1.5, -0.5, 0.5, 1.5, 2.5], "labels": false, "tickSize": -4, "tickWidth": 2, "title": null}}
 }},
{"data": {"values": [{"k": 0, "e": 0}]},
 "mark": {"type": "point", "opacity": 0},
 "encoding": {
  "x": {"field": "k", "type": "quantitative", "scale": {"domain": [0, 4], "nice": false, "zero": false},
        "axis": {"orient": "top", "values": [0.5, 1.5, 2.5, 3.5], "labels": false, "tickSize": -4, "tickWidth": 2, "title": null}},
  "y": {"field": "e", "type": "quantitative", "scale": {"domain": [-3, 3], "nice": false, "zero": false},
        "axis": {"orient": "right", "values": [-2.5, -1.5, -0.5, 0.5, 1.5, 2.5], "labels": false, "tickSize": -4, "tickWidth": 2, "title": null}}
 }},
{"data": {"values": [{"label": "(a)"}]},
 "mark": {"type": "text", "align": "left", "baseline": "middle", "fontSize": 25, "font": "Liberation Serif"},
 "encoding": {
  "x": {"datum": 3.43, "type": "quantitative", "axis": null},
  "y": {"datum": 0.5, "type": "quantitative", "axis": null},
  "text": {"field": "label"}
 }}
],
"resolve": {"axis": {"x": "independent", "y": "independent"}}
},
{
"width": 250, "height": 378,
"layer": [
{"data": {"name": "B"},
 "transform": [{"filter": "datum.s == 'u'"}],
 "mark": {"type": "line", "clip": true, "interpolate": "monotone", "strokeWidth": 1.8},
 "encoding": {
  "x": {"field": "k", "type": "quantitative", "scale": {"domain": [0, 4], "nice": false, "zero": false},
        "axis": {"orient": "bottom", "values": [0, 1, 2, 3, 4], "labelExpr": "['Γ','F','Q','Z','Γ'][datum.value]", "ticks": false, "labelFont": "Liberation Serif", "labelFontSize": 28, "labelPadding": 17, "labelFlush": false, "labelOverlap": false, "title": null}},
  "y": {"field": "e", "type": "quantitative", "scale": {"domain": [-3, 3], "nice": false, "zero": false},
        "axis": {"orient": "left", "values": [-3, -2, -1, 0, 1, 2, 3], "labelExpr": "'' + datum.value", "ticks": false, "labelFont": "Liberation Serif", "labelFontSize": 28, "labelPadding": 7, "labelFlush": true, "labelOverlap": false, "title": null}},
  "detail": {"field": "b"},
  "color": {"datum": "Spin-up", "scale": {"domain": ["Spin-up", "Spin-down"], "range": ["#000000", "#ff0000"]}, "legend": {"orient": "none", "legendX": 44, "legendY": 129, "title": null}},
  "strokeDash": {"datum": "Spin-up", "scale": {"domain": ["Spin-up", "Spin-down"], "range": [[1, 0], [2, 1.2]]}, "legend": {"orient": "none", "legendX": 44, "legendY": 129, "title": null}}
 }},
{"data": {"name": "B"},
 "transform": [{"filter": "datum.s == 'd'"}],
 "mark": {"type": "line", "clip": true, "interpolate": "monotone", "strokeWidth": 2.1},
 "encoding": {
  "x": {"field": "k", "type": "quantitative", "scale": {"domain": [0, 4], "nice": false, "zero": false},
        "axis": {"orient": "bottom", "values": [0, 1, 2, 3, 4], "labels": false, "tickSize": -8, "tickWidth": 2, "title": null}},
  "y": {"field": "e", "type": "quantitative", "scale": {"domain": [-3, 3], "nice": false, "zero": false},
        "axis": {"orient": "left", "values": [-3, -2, -1, 0, 1, 2, 3], "labels": false, "tickSize": -8, "tickWidth": 2, "title": null}},
  "detail": {"field": "b"},
  "color": {"datum": "Spin-down", "scale": {"domain": ["Spin-up", "Spin-down"], "range": ["#000000", "#ff0000"]}, "legend": {"orient": "none", "legendX": 44, "legendY": 129, "title": null}},
  "strokeDash": {"datum": "Spin-down", "scale": {"domain": ["Spin-up", "Spin-down"], "range": [[1, 0], [2, 1.2]]}, "legend": {"orient": "none", "legendX": 44, "legendY": 129, "title": null}}
 }},
{"data": {"values": [{"k": 0, "e": 0}]},
 "mark": {"type": "point", "opacity": 0},
 "encoding": {
  "x": {"field": "k", "type": "quantitative", "scale": {"domain": [0, 4], "nice": false, "zero": false},
        "axis": {"orient": "top", "values": [0, 1, 2, 3, 4], "labels": false, "tickSize": -8, "tickWidth": 2, "title": null}},
  "y": {"field": "e", "type": "quantitative", "scale": {"domain": [-3, 3], "nice": false, "zero": false},
        "axis": {"orient": "right", "values": [-3, -2, -1, 0, 1, 2, 3], "labels": false, "tickSize": -8, "tickWidth": 2, "title": null}}
 }},
{"data": {"values": [{"k": 0, "e": 0}]},
 "mark": {"type": "point", "opacity": 0},
 "encoding": {
  "x": {"field": "k", "type": "quantitative", "scale": {"domain": [0, 4], "nice": false, "zero": false},
        "axis": {"orient": "bottom", "values": [0.5, 1.5, 2.5, 3.5], "labels": false, "tickSize": -4, "tickWidth": 2, "title": null}},
  "y": {"field": "e", "type": "quantitative", "scale": {"domain": [-3, 3], "nice": false, "zero": false},
        "axis": {"orient": "left", "values": [-2.5, -1.5, -0.5, 0.5, 1.5, 2.5], "labels": false, "tickSize": -4, "tickWidth": 2, "title": null}}
 }},
{"data": {"values": [{"k": 0, "e": 0}]},
 "mark": {"type": "point", "opacity": 0},
 "encoding": {
  "x": {"field": "k", "type": "quantitative", "scale": {"domain": [0, 4], "nice": false, "zero": false},
        "axis": {"orient": "top", "values": [0.5, 1.5, 2.5, 3.5], "labels": false, "tickSize": -4, "tickWidth": 2, "title": null}},
  "y": {"field": "e", "type": "quantitative", "scale": {"domain": [-3, 3], "nice": false, "zero": false},
        "axis": {"orient": "right", "values": [-2.5, -1.5, -0.5, 0.5, 1.5, 2.5], "labels": false, "tickSize": -4, "tickWidth": 2, "title": null}}
 }},
{"data": {"values": [{"label": "(b)"}]},
 "mark": {"type": "text", "align": "left", "baseline": "middle", "fontSize": 25, "font": "Liberation Serif"},
 "encoding": {
  "x": {"datum": 3.5, "type": "quantitative", "axis": null},
  "y": {"datum": 0.48, "type": "quantitative", "axis": null},
  "text": {"field": "label"}
 }}
],
"resolve": {"axis": {"x": "independent", "y": "independent"}}
}
],
"resolve": {"scale": {"color": "shared", "strokeDash": "shared"}},
"config": {
 "view": {"stroke": "#000000", "strokeWidth": 2},
 "font": "Liberation Serif",
 "axis": {"domain": false, "grid": false, "labelFont": "Liberation Serif", "titleFont": "Liberation Serif", "labelColor": "#000000", "titleColor": "#000000", "tickColor": "#000000"},
 "legend": {"symbolType": "M-2,0H2", "symbolSize": 576, "symbolStrokeWidth": 2, "labelFont": "Liberation Serif", "labelFontSize": 24, "labelColor": "#000000", "labelOffset": 18, "rowPadding": -2, "padding": 0},
 "line": {"strokeCap": "butt"}
}
}
